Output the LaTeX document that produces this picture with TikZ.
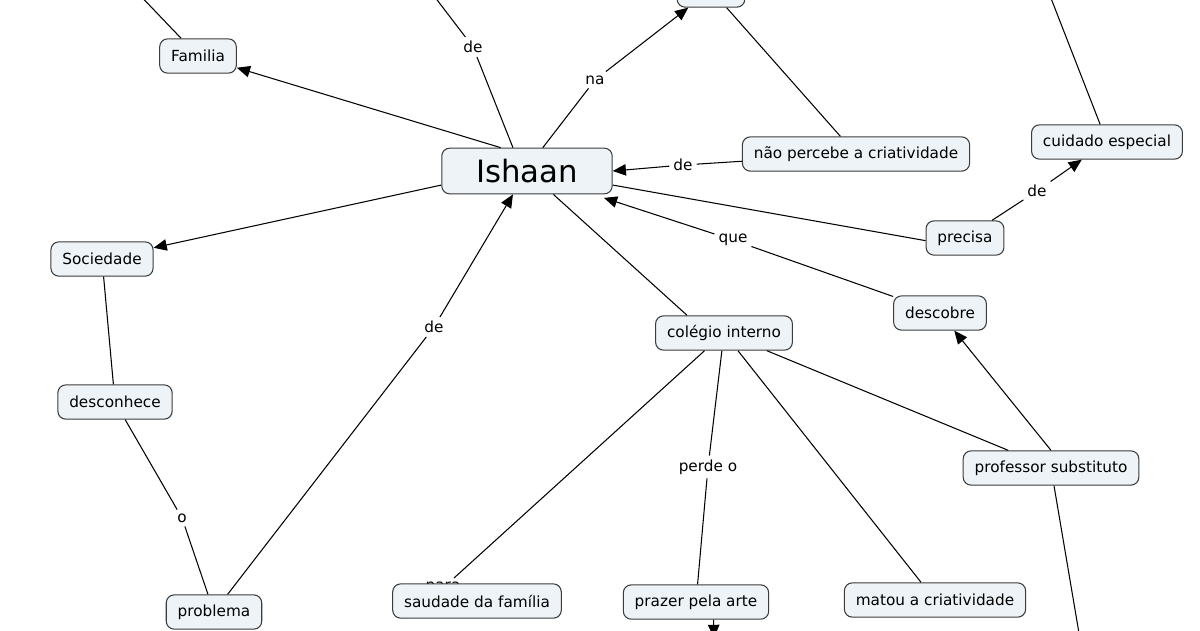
\documentclass[tikz,border=0pt]{standalone}
\usepackage{fontspec}
\setmainfont{DejaVu Sans}
\usetikzlibrary{arrows.meta}
\definecolor{cfill}{RGB}{237,243,246}
\definecolor{cline}{RGB}{60,60,60}

\begin{document}
\begin{tikzpicture}[x=0.02cm,y=-0.02cm,line width=0.6pt,
conc/.style={draw=cline,fill=cfill,rounded corners=4.5pt,minimum height=19.5pt,
  inner xsep=6.5pt,font=\fontsize{8.7}{10}\selectfont},
lnk/.style={inner sep=2pt,font=\fontsize{8.7}{10}\selectfont},
arr/.style={-{Triangle[length=7.5pt,width=6.5pt]}}]
\useasboundingbox (0,0) rectangle (1200,630);
\clip (0,0) rectangle (1200,630);
% concepts
\node[conc,minimum width=97pt,minimum height=26pt,font=\fontsize{17.5}{20}\selectfont] (Ishaan) at (527,171) {Ishaan};
\node[conc] (Familia) at (198,56) {Familia};
\node[conc,minimum width=38.5pt] (Topo) at (711,-10) {};
\node[conc] (NaoPercebe) at (856,154) {não percebe a criatividade};
\node[conc] (Cuidado) at (1107,142) {cuidado especial};
\node[conc] (Precisa) at (965,238) {precisa};
\node[conc] (Sociedade) at (102,259) {Sociedade};
\node[conc] (Descobre) at (940,313) {descobre};
\node[conc] (Colegio) at (724,333) {colégio interno};
\node[conc] (Desconhece) at (115,402) {desconhece};
\node[conc] (Professor) at (1051,468) {professor substituto};
\node[lnk] (lPara) at (443,588) {para};
\node[conc] (Saudade) at (477,601) {saudade da família};
\node[conc] (Prazer) at (696,602) {prazer pela arte};
\node[conc] (Matou) at (935,600) {matou a criatividade};
\node[conc] (Problema) at (214,612) {problema};
% linking phrases
\node[lnk] (lDeTopo) at (473,47) {de};
\node[lnk] (lNa) at (595,80) {na};
\node[lnk] (lDeNao) at (683,165) {de};
\node[lnk] (lDeCuid) at (1037,191) {de};
\node[lnk] (lQue) at (733,240) {que};
\node[lnk] (lDeProb) at (434,327) {de};
\node[lnk] (lO) at (182,518) {o};
\node[lnk] (lPerde) at (708,467) {perde o};
\coordinate (famOut) at (133,-12);
\coordinate (deOut) at (428,-12);
\coordinate (cuidOut) at (1047,-12);
\coordinate (profOut) at (1081,645);
\coordinate (prazOut) at (714,638);
% connections
\draw (famOut) -- (Familia);
\draw[arr] ([xshift=-15pt]Ishaan.north) -- (Familia);
\draw (deOut) -- (lDeTopo) -- ([xshift=-8pt]Ishaan.north);
\draw[arr] ([xshift=9pt]Ishaan.north) -- (lNa) -- (Topo);
\draw (Topo) -- (NaoPercebe);
\draw[arr] (NaoPercebe) -- (lDeNao) -- (Ishaan.east);
\draw[arr] ([yshift=-8pt]Ishaan.west) -- (Sociedade);
\draw ([yshift=-8pt]Ishaan.east) -- ([yshift=-1.5pt]Precisa.west);
\draw[arr] (Precisa) -- (lDeCuid) -- (Cuidado);
\draw (Cuidado) -- (cuidOut);
\draw[arr] (Descobre) -- (lQue) -- ([xshift=-5pt,yshift=-2pt]Ishaan.south east);
\draw ([xshift=15pt]Ishaan.south) -- ([xshift=-21pt]Colegio.north);
\draw (Colegio) -- (lPara);
\draw (Colegio) -- (lPerde) -- (Prazer);
\draw (Colegio) -- (Matou);
\draw (Colegio) -- (Professor);
\draw[arr] (Professor.north) -- (Descobre);
\draw (Professor) -- (profOut);
\draw[arr] ([xshift=10pt]Prazer.south) -- (prazOut);
\draw (Sociedade) -- (Desconhece);
\draw (Desconhece) -- (lO) -- (Problema);
\draw[arr] (Problema) -- (lDeProb) -- ([xshift=-8pt]Ishaan.south);
\end{tikzpicture}
\end{document}
